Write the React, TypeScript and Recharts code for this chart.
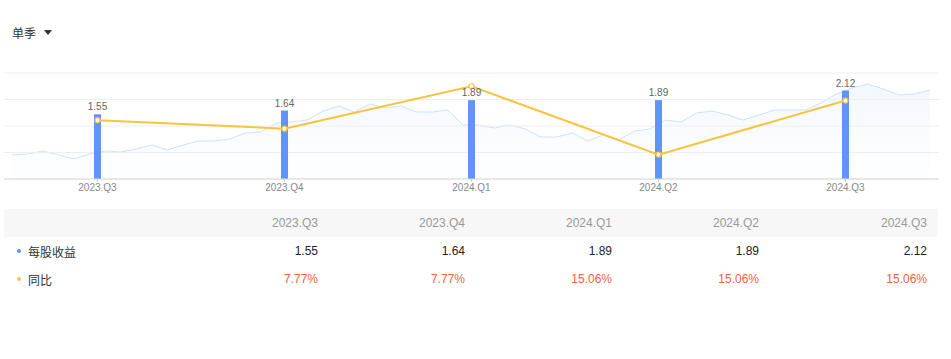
import React from "react";
import {
  ComposedChart,
  AreaChart,
  Area,
  Bar,
  Line,
  XAxis,
  YAxis,
  CartesianGrid,
  LabelList,
} from "recharts";

const quarters = ["2023.Q3", "2023.Q4", "2024.Q1", "2024.Q2", "2024.Q3"];
const eps = [1.55, 1.64, 1.89, 1.89, 2.12];
// yoy line as drawn on the chart (the table shows the text values below)
const yoyLine = [11.1, 9.5, 17.5, 4.6, 14.8];
const epsText = ["1.55", "1.64", "1.89", "1.89", "2.12"];
const yoyText = ["7.77%", "7.77%", "15.06%", "15.06%", "15.06%"];
// faint price trend in the background
const priceTrend = [
  24, 25, 28, 24, 20, 25, 28, 27, 30, 34, 29, 34, 38, 38, 40, 46, 47, 56, 57, 59,
  68, 73, 67, 75, 71, 73, 67, 67, 69, 54, 54, 51, 54, 50, 42, 42, 46, 38, 44, 39,
  48, 50, 59, 57, 66, 68, 64, 59, 64, 69, 69, 69, 76, 85, 91, 95, 90, 84, 85, 89,
];

const BLUE = "#6194F9";
const YELLOW = "#F9C33C";
const FONT = '"Liberation Sans", Arial, "Noto Sans CJK SC", sans-serif';

const W = 951;
const CH = 140;
const margin = { top: 13, right: 12, bottom: 0, left: 4 };

const barData = quarters.map((q, k) => ({ q, eps: eps[k], yoy: yoyLine[k] }));
const trendData = priceTrend.map((v, i) => ({ i, v }));

const colWidths = [147, 147, 147, 147, 179];

function Row({
  label,
  dot,
  values,
  color,
  bg,
}: {
  label: string;
  dot?: string;
  values: string[];
  color: string;
  bg: string;
}) {
  return (
    <div style={{ display: "flex", height: 28, alignItems: "center", background: bg }}>
      <div style={{ width: 167, position: "relative", height: 28, display: "flex", alignItems: "center" }}>
        {dot && (
          <span
            style={{
              position: "absolute",
              left: 13,
              top: 12,
              width: 4,
              height: 4,
              borderRadius: 2,
              background: dot,
            }}
          />
        )}
        <span style={{ marginLeft: 24, color: "#333" }}>{label}</span>
      </div>
      {values.map((v, k) => (
        <div
          key={k}
          style={{
            width: colWidths[k],
            textAlign: "right",
            paddingRight: k === 4 ? 11 : 0,
            boxSizing: "border-box",
            color,
          }}
        >
          {v}
        </div>
      ))}
    </div>
  );
}

export default function App() {
  return (
    <div
      style={{
        position: "absolute",
        left: 0,
        top: 0,
        width: W,
        height: 359,
        background: "#fff",
        fontFamily: FONT,
        fontSize: 12,
      }}
    >
      <div style={{ position: "absolute", left: 12, top: 24, color: "#333", fontSize: 12 }}>单季</div>
      <div
        style={{
          position: "absolute",
          left: 44,
          top: 30,
          width: 0,
          height: 0,
          borderLeft: "4px solid transparent",
          borderRight: "4px solid transparent",
          borderTop: "5px solid #333",
        }}
      />

      {/* background trend */}
      <div style={{ position: "absolute", left: 0, top: 60 }}>
        <AreaChart width={W} height={CH} data={trendData} margin={{ ...margin, bottom: 21 }}>
          <defs>
            <linearGradient id="trendFill" x1="0" y1="0" x2="0" y2="1">
              <stop offset="0%" stopColor="#DCEBFD" stopOpacity={0.6} />
              <stop offset="100%" stopColor="#EEF5FE" stopOpacity={0.15} />
            </linearGradient>
          </defs>
          <XAxis dataKey="i" type="number" domain={[-0.51, 59.58]} hide allowDataOverflow />
          <YAxis domain={[0, 106]} hide allowDataOverflow />
          <Area
            type="linear"
            dataKey="v"
            stroke="#CDE2FB"
            strokeWidth={1}
            fill="url(#trendFill)"
            isAnimationActive={false}
            dot={false}
            activeDot={false}
          />
        </AreaChart>
      </div>

      {/* bars + yoy line */}
      <div style={{ position: "absolute", left: 0, top: 60 }}>
        <ComposedChart width={W} height={CH} data={barData} margin={margin}>
          <CartesianGrid vertical={false} stroke="#EEEEEE" yAxisId="yoy" />
          <XAxis
            dataKey="q"
            height={21}
            axisLine={{ stroke: "#D9D9D9" }}
            tickLine={{ stroke: "#CCCCCC" }}
            tickSize={3}
            tick={{ fill: "#888", fontSize: 10, fontFamily: FONT }}
          />
          <YAxis yAxisId="eps" domain={[0, 2.54]} hide />
          <YAxis yAxisId="yoy" domain={[0, 20]} ticks={[0, 5, 10, 15, 20]} hide />
          <Bar yAxisId="eps" dataKey="eps" fill={BLUE} barSize={7} isAnimationActive={false}>
            <LabelList dataKey="eps" position="top" offset={4} fill="#666" fontSize={10} fontFamily={FONT} />
          </Bar>
          <Line
            yAxisId="yoy"
            type="linear"
            dataKey="yoy"
            stroke={YELLOW}
            strokeWidth={2}
            dot={{ r: 2.5, fill: "#fff", stroke: YELLOW, strokeWidth: 1.2 }}
            activeDot={false}
            isAnimationActive={false}
          />
        </ComposedChart>
      </div>

      {/* table */}
      <div style={{ position: "absolute", left: 4, top: 209, width: 934 }}>
        <Row label="" values={quarters} color="#999" bg="#F7F7F7" />
        <Row label="每股收益" dot={BLUE} values={epsText} color="#222" bg="#fff" />
        <Row label="同比" dot={YELLOW} values={yoyText} color="#F5603A" bg="#fff" />
      </div>
    </div>
  );
}
